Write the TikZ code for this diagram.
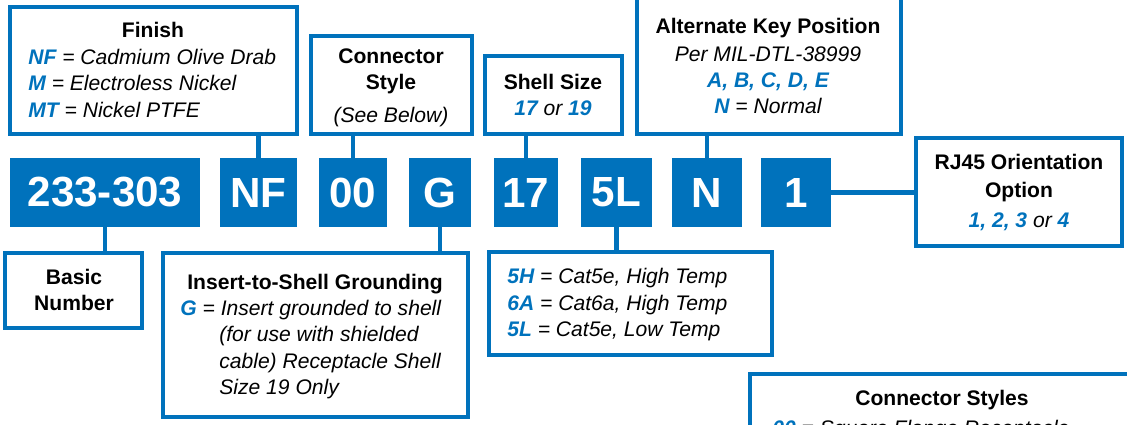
\documentclass[tikz,border=0pt]{standalone}
\usepackage{fontspec}
\setmainfont{Liberation Sans}
\usetikzlibrary{fit}
\definecolor{codeblue}{HTML}{0072BC}
\newcommand{\pncode}[1]{\textcolor{codeblue}{\textbf{\textit{#1}}}}
\tikzset{
  codebox/.style={fill=codeblue, text=white, font=\fontsize{24}{28}\selectfont\bfseries,
    inner sep=0pt, minimum height=1.38cm},
  descbox/.style={draw=codeblue, line width=2.4pt, inner sep=0pt},
  link/.style={draw=codeblue, line width=2.4pt},
  txt/.style={font=\fontsize{12}{15}\selectfont\itshape, inner sep=0pt},
  head/.style={font=\fontsize{12}{15}\selectfont\bfseries, inner sep=0pt},
}
\begin{document}
\begin{tikzpicture}[x=0.02cm, y=-0.02cm]
  \useasboundingbox (0,0) rectangle (1127,424);
  \clip (0,0) rectangle (1127,424);
  % part number blocks
  \node[codebox, minimum width=3.80cm] (pnbasic)  at (105,192.5)   {233-303};
  \node[codebox, minimum width=1.54cm] (pnfinish) at (258.5,192.5) {NF};
  \node[codebox, minimum width=1.36cm] (pnstyle)  at (353,192.5)   {00};
  \node[codebox, minimum width=1.24cm] (pnground) at (440,192.5)   {G};
  \node[codebox, minimum width=1.28cm] (pnshell)  at (526,192.5)   {17};
  \node[codebox, minimum width=1.42cm] (pninsert) at (616.5,192.5) {5L};
  \node[codebox, minimum width=1.40cm] (pnkey)    at (707,192.5)   {N};
  \node[codebox, minimum width=1.40cm] (pnrj)     at (796,192.5)   {1};
  % boxes above
  \node[descbox, fit={(10,7) (297,134)}]    (finishbox) {};
  \node[descbox, fit={(311,36) (472,134)}]  (stylebox)  {};
  \node[descbox, fit={(485,56) (622,134)}]  (shellbox)  {};
  \node[descbox, fit={(637,-6) (901,134)}]  (keybox)    {};
  \node[descbox, fit={(916,138) (1122,246)}] (rjbox)    {};
  % boxes below
  \node[descbox, fit={(5,253) (142,328)}]   (basicbox)  {};
  \node[descbox, fit={(163,253) (468,417)}] (groundbox) {};
  \node[descbox, fit={(489,252) (772,355)}] (insertbox) {};
  \node[descbox, fit={(750,374) (1150,460)}] (stylesbox) {};
  % connectors
  \draw[link] (pnfinish.north) -- (pnfinish.north |- finishbox.south);
  \draw[link] (pnstyle.north) -- (pnstyle.north |- stylebox.south);
  \draw[link] (pnshell.north) -- (pnshell.north |- shellbox.south);
  \draw[link] (pnkey.north) -- (pnkey.north |- keybox.south);
  \draw[link] (pnrj.east) -- (pnrj.east -| rjbox.west);
  \draw[link] (pnbasic.south) -- (pnbasic.south |- basicbox.north);
  \draw[link] (pnground.south) -- (pnground.south |- groundbox.north);
  \draw[link] (pninsert.south) -- (pninsert.south |- insertbox.north);
  % Finish
  \node[head, anchor=base] (finishhead) at (153,37) {Finish};
  \node[txt, anchor=base west] (finisha) at (28,64)    {\pncode{NF} = Cadmium Olive Drab};
  \node[txt, anchor=base west] (finishb) at (28,90.5)  {\pncode{M} = Electroless Nickel};
  \node[txt, anchor=base west] (finishc) at (28,117)   {\pncode{MT} = Nickel PTFE};
  % Connector Style
  \node[head, anchor=base] (stylehead) at (391,63) {Connector};
  \node[head, anchor=base] (styleheadb) at (391,89) {Style};
  \node[txt, anchor=base] (stylea) at (391,122) {(See Below)};
  % Shell Size
  \node[head, anchor=base] (shellhead) at (553,89) {Shell Size};
  \node[txt, anchor=base] (shella) at (553,115) {\pncode{17} or \pncode{19}};
  % Key position
  \node[head, anchor=base] (keyhead) at (768,33) {Alternate Key Position};
  \node[txt, anchor=base] (keya) at (768,61) {Per MIL-DTL-38999};
  \node[txt, anchor=base] (keyb) at (768,87) {\pncode{A, B, C, D, E}};
  \node[txt, anchor=base] (keyc) at (768,113) {\pncode{N} = Normal};
  % RJ45
  \node[head, anchor=base] (rjhead) at (1019,169) {RJ45 Orientation};
  \node[head, anchor=base] (rjheadb) at (1019,197) {Option};
  \node[txt, anchor=base] (rja) at (1019,227) {\pncode{1, 2, 3} or \pncode{4}};
  % Basic Number
  \node[head, anchor=base] (basichead) at (74,284) {Basic};
  \node[head, anchor=base] (basicheadb) at (74,310) {Number};
  % Grounding
  \node[head, anchor=base] (groundhead) at (315,289) {Insert-to-Shell Grounding};
  \node[txt, anchor=base west] (grounda) at (180,315)   {\pncode{G} = Insert grounded to shell};
  \node[txt, anchor=base west] (groundb) at (219,341.5) {(for use with shielded};
  \node[txt, anchor=base west] (groundc) at (219,368)   {cable) Receptacle Shell};
  \node[txt, anchor=base west] (groundd) at (219,394.5) {Size 19 Only};
  % Insert
  \node[txt, anchor=base west] (inserta) at (507,283) {\pncode{5H} = Cat5e, High Temp};
  \node[txt, anchor=base west] (insertb) at (507,310) {\pncode{6A} = Cat6a, High Temp};
  \node[txt, anchor=base west] (insertc) at (507,336) {\pncode{5L} = Cat5e, Low Temp};
  % Connector Styles
  \node[head, anchor=base] (styleshead) at (942,405) {Connector Styles};
  \node[txt, anchor=base west] (stylesa) at (772,435) {\pncode{00} = Square Flange Receptacle};
\end{tikzpicture}
\end{document}
